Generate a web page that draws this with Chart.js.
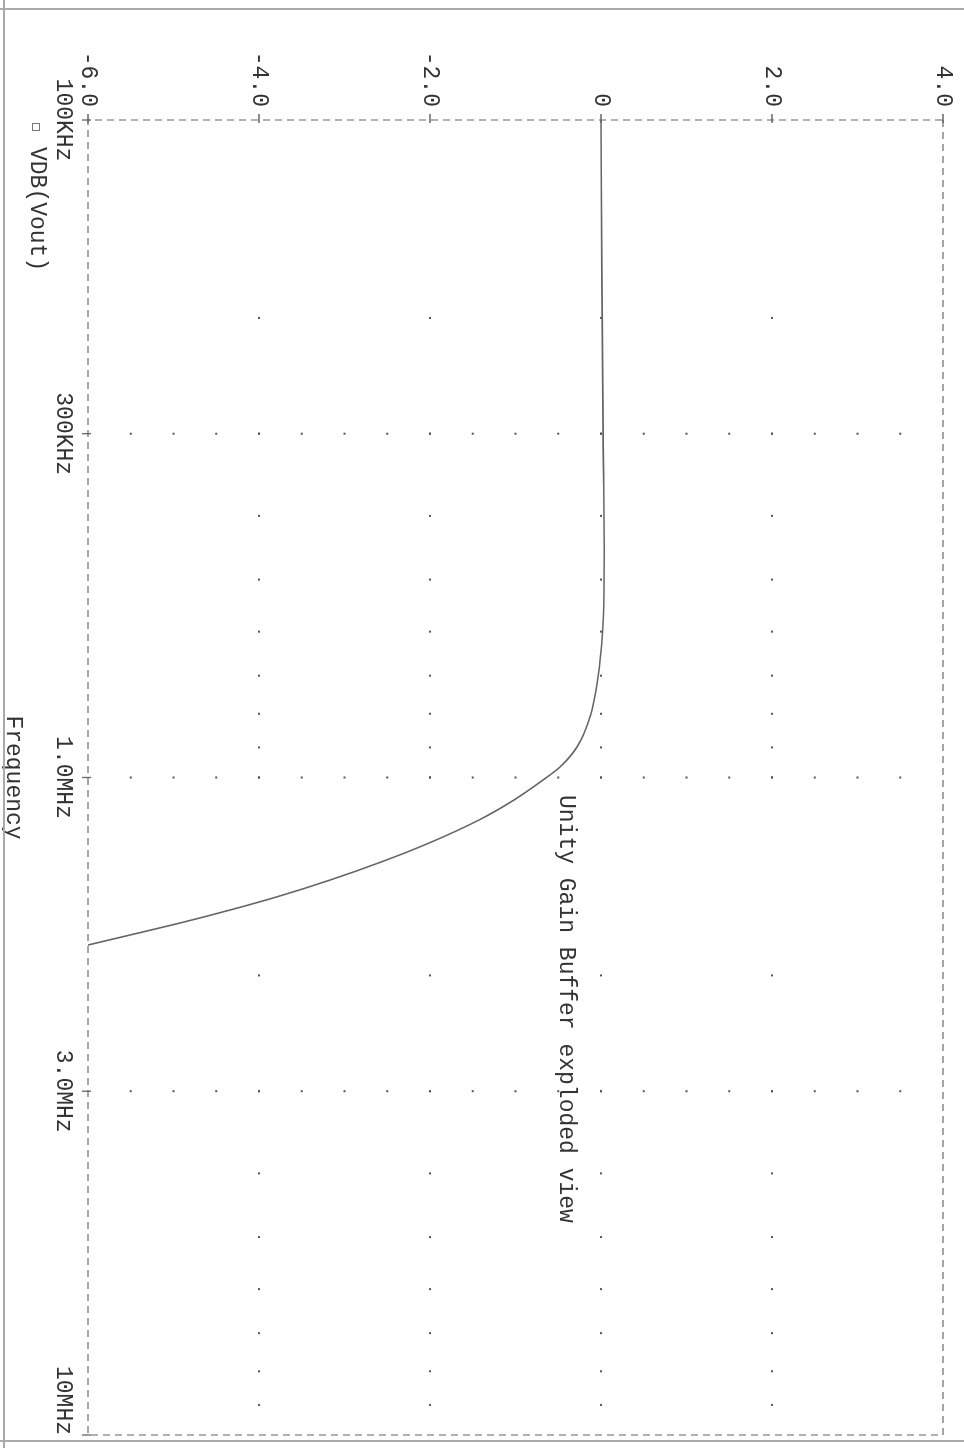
<!DOCTYPE html>
<html>
<head>
<meta charset="utf-8">
<script src="https://cdn.jsdelivr.net/npm/chart.js@4.4.1/dist/chart.umd.min.js"></script>
<style>
  html, body { margin: 0; padding: 0; background: #fff; overflow: hidden; }
  /* the plot is printed sideways: draw it landscape, then turn it 90deg clockwise */
  #wrap {
    position: absolute; left: 0; top: 0;
    width: 1448px; height: 964px;
    transform-origin: 0 0;
    transform: translate(964px, 0) rotate(90deg);
  }
</style>
</head>
<body>
<div id="wrap"><canvas id="plot" width="1448" height="964" style="width:1448px;height:964px"></canvas></div>
<script>
/* frequency points of the trace (Hz) */
const freqHz = [1e5, 1.73e5, 3e5, 4.5e5, 5.5e5, 6.03e5, 7.034e5, 8.09e5, 8.987e5, 9.639e5, 1.0088e6,
  1.082e6, 1.1605e6, 1.2581e6, 1.3446e6, 1.4322e6, 1.5196e6, 1.5906e6, 1.6647e6, 1.7361e6, 1.7979e6];

/* VDB(Vout) in dB */
const vdbOut = [0.0, 0.01, 0.025, 0.038, 0.033, 0.018, -0.035, -0.129, -0.281, -0.48, -0.678,
  -1.018, -1.427, -2.012, -2.573, -3.17, -3.795, -4.339, -4.924, -5.509, -6.0];

/* axis ticks */
const freqTicks = [1e5, 3e5, 1e6, 3e6, 1e7];
// last label sits left of its tick, the trailing blanks push it in
const freqLabels = ['100KHz', '300KHz', '1.0MHz', '3.0MHz', '10MHz     '];
const minorFreqTicks = [2e5, 3e5, 4e5, 5e5, 6e5, 7e5, 8e5, 9e5, 1e6, 2e6, 3e6, 4e6, 5e6, 6e6, 7e6, 8e6, 9e6];
const dbTicks = [-6, -4, -2, 0, 2, 4];
const dbLabels = ['-6.0', '-4.0', '-2.0', '0', '2.0', '4.0'];
const dbFineStep = 0.5;

const FONT = 'Liberation Mono, DejaVu Sans Mono, monospace';
const INK = '#333';

/* PSpice style frame: dashed box, dot grid, labels */
const probePlugin = {
  id: 'probe',
  beforeDatasetsDraw(chart) {
    const { ctx, chartArea: a, scales } = chart;
    const x = scales.x, y = scales.y;
    ctx.save();

    // dot grid
    ctx.fillStyle = '#555';
    dbTicks.slice(1, -1).forEach((d) => {
      minorFreqTicks.forEach((f) => {
        ctx.fillRect(x.getPixelForValue(f) - 1, y.getPixelForValue(d) - 1, 2, 2);
      });
    });
    freqTicks.slice(1, -1).forEach((f) => {
      for (let d = dbTicks[0] + dbFineStep; d < dbTicks[dbTicks.length - 1]; d += dbFineStep) {
        ctx.fillRect(x.getPixelForValue(f) - 1, y.getPixelForValue(d) - 1, 2, 2);
      }
    });

    // dashed box
    ctx.strokeStyle = '#888';
    ctx.lineWidth = 1.3;
    ctx.setLineDash([7, 5]);
    ctx.strokeRect(a.left, a.top, a.right - a.left, a.bottom - a.top);
    ctx.setLineDash([]);

    // tick marks outside the box
    ctx.strokeStyle = '#666';
    ctx.beginPath();
    freqTicks.forEach((f) => {
      const px = x.getPixelForValue(f);
      ctx.moveTo(px, a.bottom - 3);
      ctx.lineTo(px, a.bottom + 6);
    });
    dbTicks.forEach((d) => {
      const py = y.getPixelForValue(d);
      ctx.moveTo(a.left - 6, py);
      ctx.lineTo(a.left + 3, py);
    });
    ctx.stroke();
    ctx.restore();
  },
  afterDraw(chart) {
    const { ctx, chartArea: a } = chart;
    ctx.save();
    ctx.fillStyle = INK;
    ctx.font = '23px ' + FONT;
    ctx.textBaseline = 'alphabetic';

    // annotation
    ctx.textAlign = 'left';
    ctx.fillText('Unity Gain Buffer exploded view', 795, 404);

    // legend
    ctx.strokeStyle = '#777';
    ctx.lineWidth = 1;
    ctx.strokeRect(a.left + 3.5, 924.5, 7, 7);
    ctx.fillText('VDB(Vout)', 147, 933);

    // axis title
    ctx.textAlign = 'center';
    ctx.fillText('Frequency', (a.left + a.right) / 2, 957);

    // page frame
    ctx.strokeStyle = '#aaa';
    ctx.lineWidth = 2;
    ctx.beginPath();
    ctx.moveTo(9, 0);
    ctx.lineTo(9, 964);
    ctx.moveTo(0, 960);
    ctx.lineTo(1448, 960);
    ctx.moveTo(1441, 0);
    ctx.lineTo(1441, 964);
    ctx.stroke();
    ctx.restore();
  },
};

const data = {
  datasets: [
    {
      label: 'VDB(Vout)',
      data: freqHz.map((f, i) => ({ x: f, y: vdbOut[i] })),
      borderColor: '#666',
      borderWidth: 1.6,
      pointRadius: 0,
      cubicInterpolationMode: 'monotone',
      fill: false,
    },
  ],
};

const config = {
  type: 'line',
  data: data,
  options: {
    responsive: false,
    animation: false,
    devicePixelRatio: 1,
    layout: { padding: { top: 21, right: 13, left: 0, bottom: 0 } },
    plugins: { legend: { display: false }, tooltip: { enabled: false } },
    scales: {
      x: {
        type: 'logarithmic',
        min: freqTicks[0],
        max: freqTicks[freqTicks.length - 1],
        grid: { display: false },
        border: { display: false },
        afterBuildTicks: (scale) => { scale.ticks = freqTicks.map((v) => ({ value: v })); },
        afterFit: (scale) => {
          scale.height = 88;
          scale.paddingLeft = 0;
          scale.paddingRight = 0;
        },
        ticks: {
          autoSkip: false,
          maxRotation: 0,
          padding: 3,
          color: INK,
          font: { size: 23, family: FONT },
          callback: (v) => freqLabels[freqTicks.indexOf(v)],
        },
      },
      y: {
        type: 'linear',
        min: dbTicks[0],
        max: dbTicks[dbTicks.length - 1],
        grid: { display: false },
        border: { display: false },
        afterBuildTicks: (scale) => { scale.ticks = dbTicks.map((v) => ({ value: v })); },
        afterFit: (scale) => {
          scale.width = 120;
          scale.paddingTop = 0;
          scale.paddingBottom = 0;
        },
        ticks: {
          autoSkip: false,
          padding: 5,
          color: INK,
          font: { size: 23, family: FONT },
          callback: (v) => dbLabels[dbTicks.indexOf(v)],
        },
      },
    },
  },
  plugins: [probePlugin],
};

new Chart(document.getElementById('plot'), config);
</script>
</body>
</html>
